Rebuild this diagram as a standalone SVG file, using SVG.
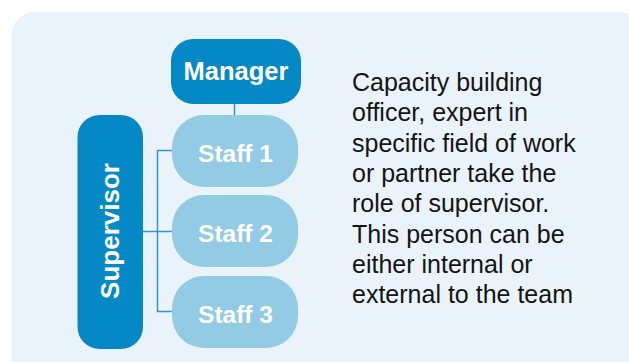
<svg xmlns="http://www.w3.org/2000/svg" width="629" height="362" viewBox="0 0 629 362">
<style>
.dark{fill:#0589c6}
.light{fill:#93cbe5}
.lbl{font-family:"Liberation Sans",Arial,sans-serif;font-weight:bold;fill:#fff;text-anchor:middle}
.conn{stroke:#2f96cc;stroke-width:1.5;fill:none}
.desc{font-family:"Liberation Sans",Arial,sans-serif;font-size:25px;fill:#141414}
</style>
<rect x="0" y="0" width="629" height="362" fill="#ffffff"/>
<rect x="12" y="12" width="630" height="400" rx="22" fill="#eaf3fa"/>
<g id="connectors">
<path class="conn" d="M234.5 104 V115"/>
<path class="conn" d="M172 150.5 H157.5 V311.5 H172"/>
<path class="conn" d="M143 231.5 H172"/>
</g>
<g id="manager">
<rect class="dark" x="171" y="39" width="130" height="65" rx="22"/>
<text class="lbl" x="236" y="79.5" font-size="25.5">Manager</text>
</g>
<g id="supervisor">
<rect class="dark" x="77.5" y="115" width="65.5" height="234" rx="22"/>
<text class="lbl" x="0" y="0" font-size="26" transform="translate(118.5 231) rotate(-90)">Supervisor</text>
</g>
<g id="staff1">
<rect class="light" x="172" y="115" width="126" height="72" rx="32"/>
<text class="lbl" x="235.5" y="161.5" font-size="24.5">Staff 1</text>
</g>
<g id="staff2">
<rect class="light" x="172" y="195" width="126" height="72" rx="32"/>
<text class="lbl" x="235.5" y="241.5" font-size="24.5">Staff 2</text>
</g>
<g id="staff3">
<rect class="light" x="172" y="276" width="126" height="72" rx="32"/>
<text class="lbl" x="235.5" y="322.5" font-size="24.5">Staff 3</text>
</g>
<g id="description">
<text class="desc" x="352" y="91">Capacity building</text>
<text class="desc" x="352" y="121.3">officer, expert in</text>
<text class="desc" x="352" y="151.6">specific field of work</text>
<text class="desc" x="352" y="181.9">or partner take the</text>
<text class="desc" x="352" y="212.2">role of supervisor.</text>
<text class="desc" x="352" y="242.5">This person can be</text>
<text class="desc" x="352" y="272.8">either internal or</text>
<text class="desc" x="352" y="303.1">external to the team</text>
</g>
</svg>
